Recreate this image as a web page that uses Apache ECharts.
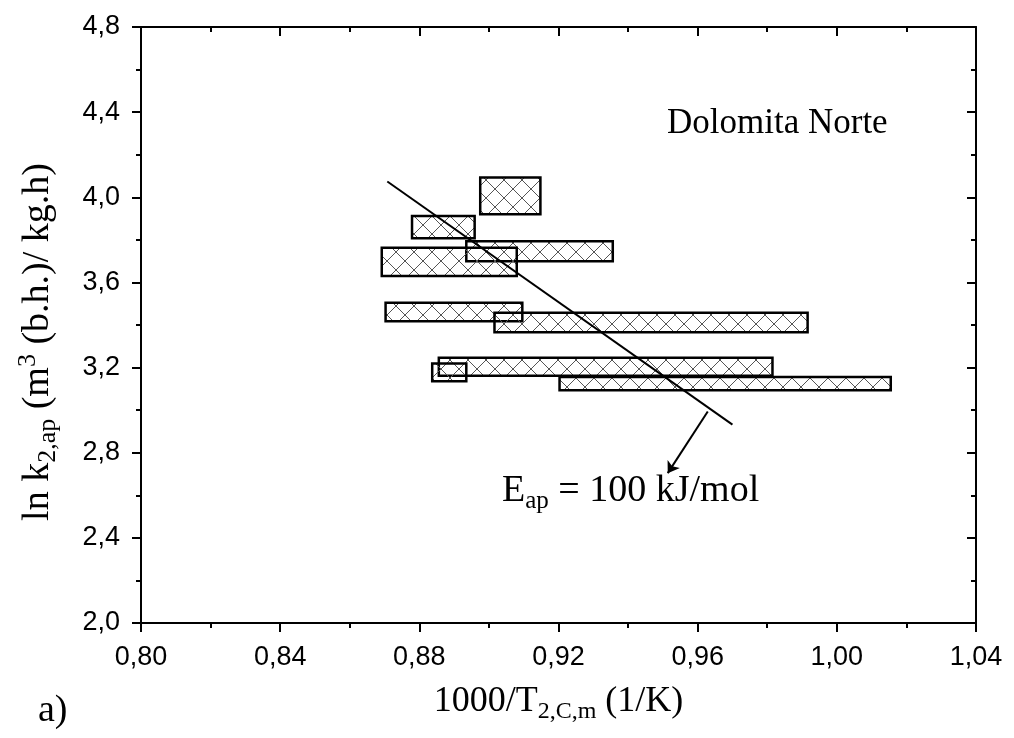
<!DOCTYPE html>
<html>
<head>
<meta charset="utf-8">
<script src="https://cdn.jsdelivr.net/npm/echarts@6/dist/echarts.min.js"></script>
<style>html,body{margin:0;padding:0;background:#fff}#c{width:1014px;height:738px}</style>
</head>
<body>
<div id="c"></div>
<script>
// Rectangles (x range, y range)
const rectX0 = [0.8975, 0.8779, 0.8935, 0.8692, 0.8703, 0.9016, 0.8856, 0.8837, 0.9203];
const rectX1 = [0.9148, 0.8959, 0.9356, 0.9080, 0.9096, 0.9916, 0.9815, 0.8935, 1.0155];
const rectY0 = [3.920, 3.807, 3.700, 3.630, 3.418, 3.366, 3.162, 3.136, 3.093];
const rectY1 = [4.093, 3.912, 3.794, 3.763, 3.504, 3.457, 3.246, 3.219, 3.156];
// Fit line (E_ap = 100 kJ/mol)
const fitX = [0.8708, 0.9700];
const fitY = [4.074, 2.932];
// Arrow pointing to the label
const arrowX = [0.9629, 0.9514];
const arrowY = [2.994, 2.704];

const serif = '"Liberation Serif","Times New Roman",serif';
const sans = '"Liberation Sans",Arial,sans-serif';

// crosshatch pattern
const tile = document.createElement('canvas');
tile.width = 18; tile.height = 18;
const g = tile.getContext('2d');
g.strokeStyle = '#555';
g.lineWidth = 1;
g.beginPath();
g.moveTo(0, 0); g.lineTo(18, 18);
g.moveTo(18, 0); g.lineTo(0, 18);
g.stroke();
const hatch = { image: tile, repeat: 'repeat' };

const rectData = rectX0.map((x0, i) => [x0, rectX1[i], rectY0[i], rectY1[i]]);
const fmt = v => v.toFixed(2).replace('.', ',');
const fmtY = v => v.toFixed(1).replace('.', ',');

const chart = echarts.init(document.getElementById('c'), null, { renderer: 'canvas' });
const axisLine = { show: true, lineStyle: { color: '#000', width: 2 } };
chart.setOption({
  animation: false,
  backgroundColor: '#fff',
  grid: { left: 141, right: 38, top: 27, bottom: 115 },
  xAxis: [{
    type: 'value', min: 0.8, max: 1.04, interval: 0.04, position: 'bottom',
    axisLine: axisLine,
    axisTick: { show: true, inside: false, length: 9, lineStyle: { color: '#000', width: 2 } },
    minorTick: { show: true, splitNumber: 2, length: 5, lineStyle: { color: '#000', width: 2 } },
    splitLine: { show: false },
    axisLabel: { formatter: fmt, color: '#000', fontFamily: sans, fontSize: 27, margin: 21 },
    name: '{n|1000/T}{sub|2,C,m}{n| (1/K)}', nameLocation: 'middle', nameGap: 57,
    nameTextStyle: { color: '#000', fontFamily: serif, rich: {
      n: { fontFamily: serif, fontSize: 36, color: '#000', lineHeight: 44 },
      sub: { fontFamily: serif, fontSize: 24, color: '#000', lineHeight: 22, verticalAlign: 'bottom' }
    } }
  }, {
    type: 'value', min: 0.8, max: 1.04, interval: 0.04, position: 'top',
    axisLine: axisLine,
    axisTick: { show: true, inside: true, length: 9, lineStyle: { color: '#000', width: 2 } },
    minorTick: { show: true, splitNumber: 2, length: 5, lineStyle: { color: '#000', width: 2 } },
    splitLine: { show: false }, axisLabel: { show: false }
  }],
  yAxis: [{
    type: 'value', min: 2.0, max: 4.8, interval: 0.4, position: 'left',
    axisLine: axisLine,
    axisTick: { show: true, inside: false, length: 9, lineStyle: { color: '#000', width: 2 } },
    minorTick: { show: true, splitNumber: 2, length: 5, lineStyle: { color: '#000', width: 2 } },
    splitLine: { show: false },
    axisLabel: { formatter: fmtY, color: '#000', fontFamily: sans, fontSize: 27, margin: 21 },
    name: '{n|ln k}{sub|2,ap}{n| (m}{sup|3}{n| (b.h.)/ kg.h)}', nameLocation: 'middle', nameGap: 80, nameRotate: 90,
    nameTextStyle: { color: '#000', fontFamily: serif, padding: [0, 34, 0, 0], rich: {
      n: { fontFamily: serif, fontSize: 38, color: '#000', lineHeight: 46 },
      sub: { fontFamily: serif, fontSize: 26, color: '#000', lineHeight: 22, verticalAlign: 'bottom' },
      sup: { fontFamily: serif, fontSize: 26, color: '#000', lineHeight: 22, verticalAlign: 'top' }
    } }
  }, {
    type: 'value', min: 2.0, max: 4.8, interval: 0.4, position: 'right',
    axisLine: axisLine,
    axisTick: { show: true, inside: true, length: 9, lineStyle: { color: '#000', width: 2 } },
    minorTick: { show: true, splitNumber: 2, length: 5, lineStyle: { color: '#000', width: 2 } },
    splitLine: { show: false }, axisLabel: { show: false }
  }],
  series: [{
    type: 'custom',
    xAxisIndex: 0, yAxisIndex: 0,
    data: rectData,
    renderItem: function (params, api) {
      const p0 = api.coord([api.value(0), api.value(3)]);
      const p1 = api.coord([api.value(1), api.value(2)]);
      return {
        type: 'rect',
        shape: { x: p0[0], y: p0[1], width: p1[0] - p0[0], height: p1[1] - p0[1] },
        style: { fill: hatch, stroke: '#000', lineWidth: 2.5 }
      };
    },
    z: 2
  }, {
    type: 'line',
    xAxisIndex: 0, yAxisIndex: 0,
    data: fitX.map((x, i) => [x, fitY[i]]),
    symbol: 'none',
    lineStyle: { color: '#000', width: 2 },
    z: 3
  }, {
    type: 'lines',
    coordinateSystem: 'cartesian2d',
    xAxisIndex: 0, yAxisIndex: 0,
    symbol: ['none', 'arrow'], symbolSize: 11,
    lineStyle: { color: '#000', width: 2, opacity: 1 },
    data: [{ coords: arrowX.map((x, i) => [x, arrowY[i]]) }],
    z: 3
  }],
  graphic: [{
    type: 'text', left: 667, top: 106,
    style: { text: 'Dolomita Norte', font: '35px ' + serif, fill: '#000' }
  }, {
    type: 'text', left: 502, top: 472,
    style: {
      text: '{n|E}{sub|ap}{n| = 100 kJ/mol}', fill: '#000',
      rich: {
        n: { fontFamily: serif, fontSize: 38, fill: '#000', lineHeight: 46 },
        sub: { fontFamily: serif, fontSize: 25, fill: '#000', lineHeight: 22, verticalAlign: 'bottom' }
      }
    }
  }, {
    type: 'text', left: 38, top: 692,
    style: { text: 'a)', font: '38px ' + serif, fill: '#000' }
  }]
});
</script>
</body>
</html>
